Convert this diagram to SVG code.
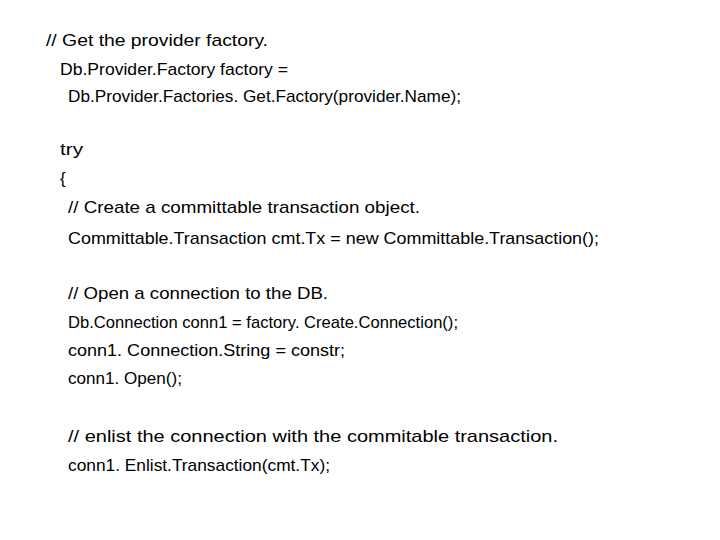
<svg xmlns="http://www.w3.org/2000/svg" width="720" height="540" viewBox="0 0 720 540">
<style>text{font-family:"Liberation Sans",Arial,sans-serif;font-size:17px;fill:#000}</style>
<rect width="720" height="540" fill="#fff"/>
<g id="code">
<text x="46" y="46" textLength="222" lengthAdjust="spacingAndGlyphs">// Get the provider factory.</text>
<text x="60" y="75" textLength="228" lengthAdjust="spacingAndGlyphs">Db.Provider.Factory factory =</text>
<text x="68" y="102" textLength="393" lengthAdjust="spacingAndGlyphs">Db.Provider.Factories. Get.Factory(provider.Name);</text>
<text x="60" y="155" textLength="23" lengthAdjust="spacingAndGlyphs">try</text>
<text x="60" y="184">{</text>
<text x="68" y="213" textLength="352" lengthAdjust="spacingAndGlyphs">// Create a committable transaction object.</text>
<text x="68" y="244" textLength="531" lengthAdjust="spacingAndGlyphs">Committable.Transaction cmt.Tx = new Committable.Transaction();</text>
<text x="68" y="299" textLength="260" lengthAdjust="spacingAndGlyphs">// Open a connection to the DB.</text>
<text x="68" y="328" textLength="390" lengthAdjust="spacingAndGlyphs">Db.Connection conn1 = factory. Create.Connection();</text>
<text x="68" y="356" textLength="277" lengthAdjust="spacingAndGlyphs">conn1. Connection.String = constr;</text>
<text x="68" y="384" textLength="114" lengthAdjust="spacingAndGlyphs">conn1. Open();</text>
<text x="68" y="442" textLength="490" lengthAdjust="spacingAndGlyphs">// enlist the connection with the commitable transaction.</text>
<text x="68" y="471" textLength="262" lengthAdjust="spacingAndGlyphs">conn1. Enlist.Transaction(cmt.Tx);</text>
</g>
</svg>
